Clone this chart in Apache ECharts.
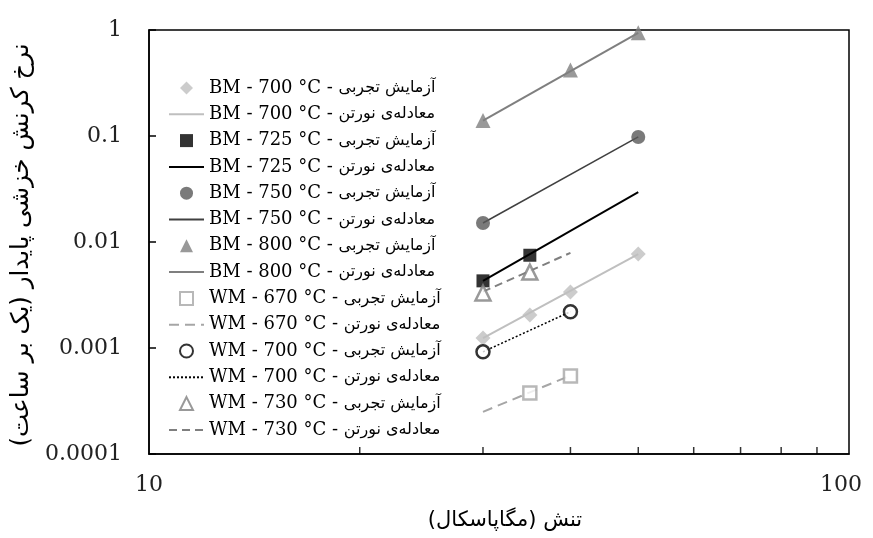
<!DOCTYPE html>
<html>
<head>
<meta charset="utf-8">
<script src="https://cdn.jsdelivr.net/npm/echarts@6.0.0/dist/echarts.min.js"></script>
<style>
  html, body { margin: 0; padding: 0; background: #fff; }
  #chart { width: 873px; height: 538px; }
</style>
</head>
<body>
<div id="chart"></div>
<script>
// stress (MPa) and steady creep rate (1/h)
const bm700Stress = [30, 35, 40, 50]
const bm700Rate = [0.00124, 0.00205, 0.00337, 0.0077]
const bm725Stress = [30, 35]
const bm725Rate = [0.0043, 0.0075]
const bm750Stress = [30, 50]
const bm750Rate = [0.0151, 0.098]
const bm800Stress = [30, 40, 50]
const bm800Rate = [0.14, 0.42, 0.94]
const wm670Stress = [35, 40]
const wm670Rate = [0.000376, 0.000545]
const wm700Stress = [30, 40]
const wm700Rate = [0.00092, 0.0022]
const wm730Stress = [30, 35]
const wm730Rate = [0.0033, 0.0052]

// Norton fit lines (end points)
const bmFitStress = [30, 50]
const bm700Fit = [0.00124, 0.0077]
const bm725Fit = [0.0043, 0.0296]
const bm750Fit = [0.0151, 0.098]
const bm800Fit = [0.14, 0.94]
const wmFitStress = [30, 40]
const wm670Fit = [0.00025, 0.00055]
const wm700Fit = [0.00092, 0.0022]
const wm730Fit = [0.0034, 0.0079]

const minorXTicks = [20, 30, 40, 50, 60, 70, 80, 90]

const TEST = ' - آزمایش تجربی'
const FIT = ' - معادله‌ی نورتن'

// legend icons drawn as paths so they keep their aspect
const icons = {
  diamond: 'path://M6,0L12,6L6,12L0,6Z',
  rect: 'path://M0,0H12V12H0Z',
  circle: 'path://M0,6A6,6,0,1,1,12,6A6,6,0,1,1,0,6Z',
  triangle: 'path://M6,0L12,12L0,12Z'
}

const pairs = (xs, ys) => xs.map((x, i) => [x, ys[i]])
const legendData = []

function test(label, xs, ys, symbol, size, itemStyle) {
  legendData.push({ name: label + TEST, icon: icons[symbol] })
  return {
    name: label + TEST, type: 'scatter', data: pairs(xs, ys),
    symbol, symbolSize: size, itemStyle, z: 4, clip: false
  }
}

function fit(label, xs, ys, lineStyle) {
  legendData.push({ name: label + FIT })
  return {
    name: label + FIT, type: 'line', data: pairs(xs, ys),
    symbol: 'none', showSymbol: false, lineStyle,
    itemStyle: { color: lineStyle.color, opacity: 0 },
    z: 3, clip: false
  }
}

const series = [
  test('BM - 700 °C', bm700Stress, bm700Rate, 'diamond', 15, { color: '#bfbfbf' }),
  fit('BM - 700 °C', bmFitStress, bm700Fit, { color: '#bfbfbf', width: 2 }),
  test('BM - 725 °C', bm725Stress, bm725Rate, 'rect', 13, { color: '#000' }),
  fit('BM - 725 °C', bmFitStress, bm725Fit, { color: '#000', width: 2 }),
  test('BM - 750 °C', bm750Stress, bm750Rate, 'circle', 14, { color: '#595959' }),
  fit('BM - 750 °C', bmFitStress, bm750Fit, { color: '#404040', width: 1.5 }),
  test('BM - 800 °C', bm800Stress, bm800Rate, 'triangle', 15, { color: '#7f7f7f' }),
  fit('BM - 800 °C', bmFitStress, bm800Fit, { color: '#7f7f7f', width: 2 }),
  test('WM - 670 °C', wm670Stress, wm670Rate, 'rect', 13, { color: '#fff', borderColor: '#a6a6a6', borderWidth: 2.5 }),
  fit('WM - 670 °C', wmFitStress, wm670Fit, { color: '#a6a6a6', width: 2, type: [10, 6] }),
  test('WM - 700 °C', wm700Stress, wm700Rate, 'circle', 13, { color: '#fff', borderColor: '#000', borderWidth: 2.5 }),
  fit('WM - 700 °C', wmFitStress, wm700Fit, { color: '#000', width: 1.5, type: [2, 2] }),
  test('WM - 730 °C', wm730Stress, wm730Rate, 'triangle', 15, { color: '#fff', borderColor: '#7f7f7f', borderWidth: 2.5 }),
  fit('WM - 730 °C', wmFitStress, wm730Fit, { color: '#7f7f7f', width: 2, type: [8, 5] })
]

series.push({
  name: 'minor', type: 'scatter', silent: true, clip: false, z: 5,
  data: minorXTicks.map(x => [x, 0.0001]),
  symbol: 'rect', symbolSize: [1.5, 7], symbolOffset: [0, -3.5],
  itemStyle: { color: '#000' }
})

const chart = echarts.init(document.getElementById('chart'), null, { renderer: 'canvas' })

chart.setOption({
  animation: false,
  backgroundColor: '#fff',
  grid: {
    left: 149, top: 30, right: 24, bottom: 84,
    show: true, borderColor: '#000', borderWidth: 1.5,
    containLabel: false, outerBoundsMode: 'none'
  },
  legend: {
    data: legendData,
    orient: 'vertical',
    left: 163, top: 73,
    itemWidth: 35, itemHeight: 13, itemGap: 6.3,
    selectedMode: false,
    formatter: name => {
      const i = name.lastIndexOf(' - ') + 3
      return '{l|' + name.slice(0, i) + '}{a|' + name.slice(i) + '}'
    },
    textStyle: {
      fontSize: 18, lineHeight: 20, color: '#000',
      rich: {
        l: { fontFamily: "'DejaVu Serif'", fontSize: 18, lineHeight: 20, color: '#000' },
        a: { fontFamily: "'DejaVu Sans'", fontSize: 16, lineHeight: 20, color: '#000' }
      }
    }
  },
  xAxis: {
    type: 'log', logBase: 10, min: 10, max: 100,
    name: '\u200Fتنش (مگاپاسکال)\u200F',
    nameLocation: 'middle', nameGap: 56,
    nameTextStyle: { fontFamily: "'DejaVu Sans'", fontSize: 21, color: '#000', padding: [0, 0, 0, 12] },
    axisLine: { lineStyle: { color: '#000', width: 1.5 } },
    axisTick: { show: false },
    splitLine: { show: false },
    axisLabel: {
      margin: 20, color: '#222',
      fontFamily: "'DejaVu Serif'", fontSize: 22,
      formatter: v => (Math.round(v) === 100 ? '{r|100}' : String(Math.round(v))),
      rich: { r: { fontFamily: "'DejaVu Serif'", fontSize: 22, color: '#222', padding: [0, 16, 0, 0] } }
    }
  },
  yAxis: {
    type: 'log', logBase: 10, min: 0.0001, max: 1,
    name: '\u200Fنرخ کرنش خزشی پایدار (یک بر ساعت)\u200F',
    nameLocation: 'middle', nameGap: 110, nameRotate: 90,
    nameTextStyle: { fontFamily: "'DejaVu Sans'", fontSize: 24.5, color: '#000', padding: [0, 6, 0, 0] },
    axisLine: { lineStyle: { color: '#000', width: 1.5 } },
    axisTick: { inside: true, length: 7, lineStyle: { color: '#000', width: 1.5 } },
    splitLine: { show: false },
    axisLabel: {
      margin: 27, color: '#222',
      fontFamily: "'DejaVu Serif'", fontSize: 22,
      formatter: v => String(+v.toPrecision(1))
    }
  },
  series
})
</script>
</body>
</html>
